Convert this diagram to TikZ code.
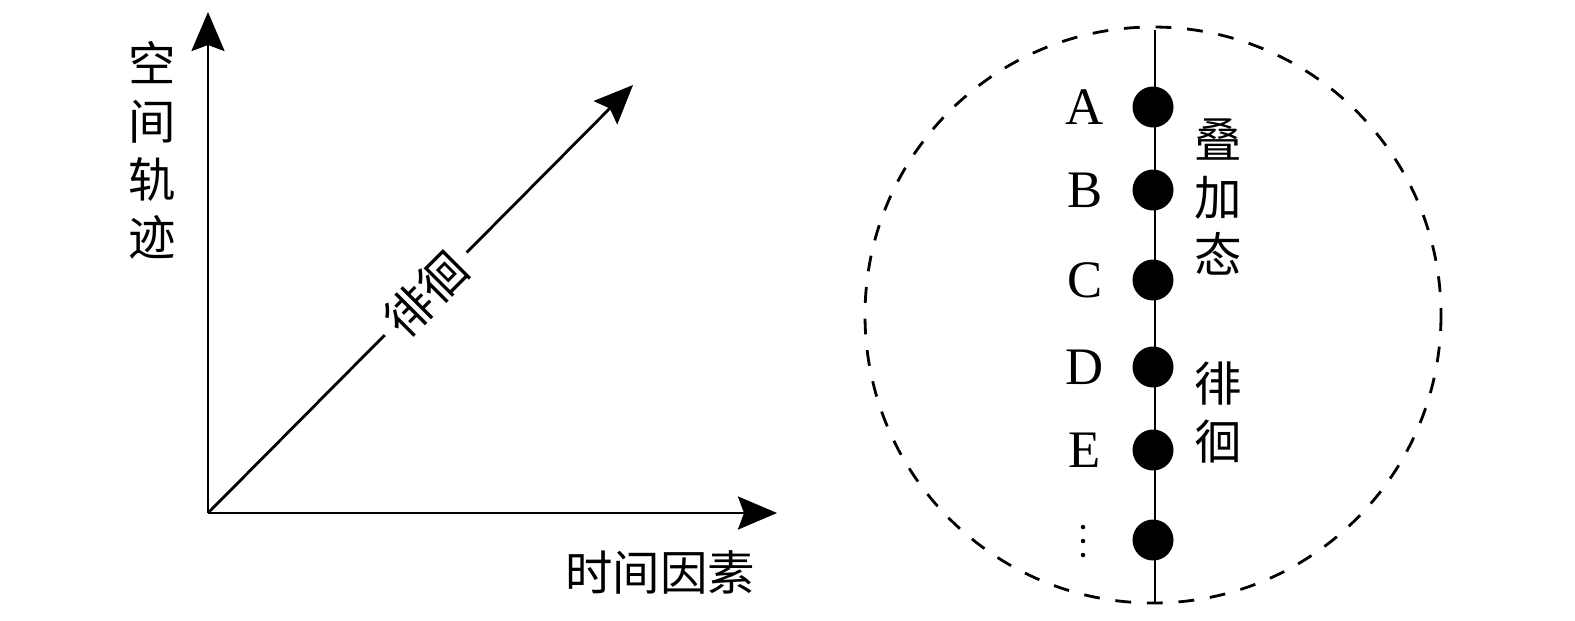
\documentclass[tikz,border=0pt]{standalone}
\usepackage{fontspec}
\setmainfont{Liberation Serif}
\newfontfamily\cjk{Noto Sans CJK SC}
\usetikzlibrary{arrows.meta}
\begin{document}
\begin{tikzpicture}[x=0.02cm,y=-0.02cm,
  ax/.style={line width=1.6pt,-{Stealth[length=0.78cm,width=0.66cm,inset=0.12cm]}},
  lab/.style={font=\cjk\fontsize{27}{33}\selectfont,inner sep=0pt},
  let/.style={font=\fontsize{30}{36}\selectfont,inner sep=0pt},
  dot/.style={circle,fill=black,minimum size=0.82cm,inner sep=0pt},
  sdot/.style={circle,fill=black,minimum size=0.09cm,inner sep=0pt}]
\useasboundingbox (0,0) rectangle (1575,620);
\coordinate (O) at (208,513);
\coordinate (Y) at (208,12);
\coordinate (X) at (777,513);
\coordinate (D) at (633,85);
\draw[ax] (O) -- (Y);
\draw[ax] (O) -- (X);
\draw[ax] (O) -- (D);
\node[lab,rotate=45,fill=white,inner sep=6pt] (w) at (426,294) {徘徊};
\node[lab,align=center] (yl) at (152,150) {空\\间\\轨\\迹};
\node[lab] (xl) at (660,572) {时间因素};
% right
\draw[line width=1.6pt,dash pattern=on 9pt off 9pt] (1153,315) ellipse [x radius=288,y radius=288];
\coordinate (T) at (1155,30);
\coordinate (B) at (1155,603);
\draw[line width=1.6pt] (T) -- (B);
\foreach \n/\yy/\t in {a/107/A,b/190/B,c/280/C,d/367/D,e/450/E}{
  \node[dot] (\n) at (1153,\yy) {};
  \node[let] at (1085,\yy) {\t};
}
\node[dot] (f) at (1153,540) {};
\foreach \yy in {527,541,555} \node[sdot] at (1083,\yy) {};
\node[lab,align=center] (s) at (1218,197) {叠\\加\\态};
\node[lab,align=center] (p) at (1218,413) {徘\\徊};
\end{tikzpicture}
\end{document}
